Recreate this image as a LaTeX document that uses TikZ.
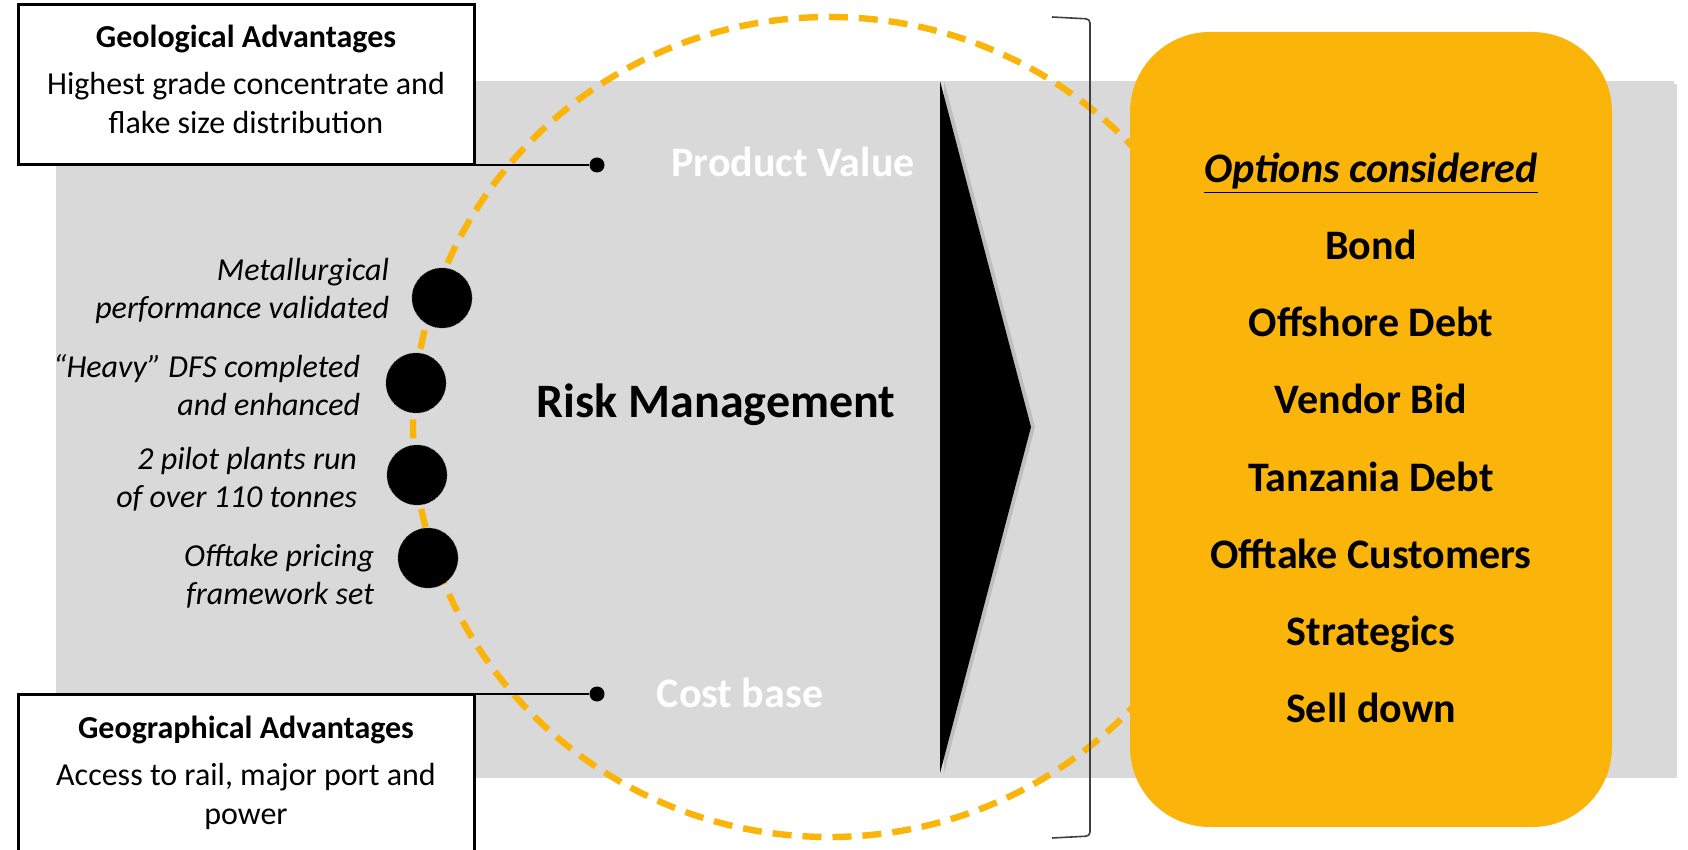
\documentclass[tikz,border=0pt]{standalone}
\usepackage{fontspec}
\setmainfont{Carlito}
\usetikzlibrary{positioning,shadows}

\definecolor{amber}{RGB}{250,180,10}
\definecolor{panelgray}{RGB}{217,217,217}
\definecolor{bracketgray}{RGB}{64,64,64}

\begin{document}
\begin{tikzpicture}[x=0.5pt,y=-0.5pt,semithick,node distance=19.9pt]

  \tikzstyle{infobox}=[rectangle,draw,line width=1.5pt,fill=white,minimum width=228pt,outer sep=0pt,inner sep=0pt]
  \tikzstyle{boxtext}=[align=center,font=\fontsize{16pt}{19.5pt}\selectfont]
  \tikzstyle{milestone}=[circle,fill=black,draw=black!70,densely dotted,thin,minimum size=30pt,inner sep=0pt]
  \tikzstyle{steptext}=[align=right,font=\fontsize{16pt}{19pt}\selectfont\itshape,inner sep=0pt]
  \tikzstyle{pindot}=[circle,fill=black,minimum size=7.5pt,inner sep=0pt]
  \tikzstyle{lead}=[line width=1.3pt]
  \tikzstyle{driver}=[text=white,font=\fontsize{21pt}{25pt}\selectfont\bfseries,anchor=base]
  \tikzstyle{choice}=[font=\fontsize{21pt}{25pt}\selectfont\bfseries,text height=14pt,text depth=4pt,inner sep=0pt]

  \useasboundingbox (0,0) rectangle (1688,850);

  % panel, arrow head and ring
  \fill[panelgray,drop shadow={shadow xshift=1.5pt,shadow yshift=-1.5pt,opacity=0.3}] (56,81) rectangle (1674,775);
  \fill[black,drop shadow={shadow xshift=2pt,shadow yshift=0pt,opacity=0.3}] (940,81) -- (1031,427) -- (940,773) -- cycle;
  \draw[amber,line width=3.2pt,dash pattern=on 9.5pt off 5.5pt] (829,427) ellipse [x radius=208pt,y radius=205pt];
  \draw[bracketgray,line width=0.8pt,rounded corners=2pt] (1052,17) -- (1090,19) -- (1090,836) -- (1052,838);

  % options
  \node[rectangle,rounded corners=40pt,fill=amber,minimum width=241pt,minimum height=397.5pt] (opts) at (1371,429.5) {};
  \node[choice] (head) at (1371,173) {\itshape\underline{Options considered}};
  \node[choice] (bond) [below=of head] {Bond};
  \node[choice] (offshore) [below=of bond] {Offshore Debt};
  \node[choice] (vendor) [below=of offshore] {Vendor Bid};
  \node[choice] (tanzania) [below=of vendor] {Tanzania Debt};
  \node[choice] (offtake) [below=of tanzania] {Offtake Customers};
  \node[choice] (strategics) [below=of offtake] {Strategics};
  \node[choice] (selldown) [below=of strategics] {Sell down};

  \node[font=\fontsize{24pt}{29pt}\selectfont\bfseries,anchor=base] (risk) at (716,417) {Risk Management};
  \node[driver] (value) at (793,177) {Product Value};
  \node[driver] (cost) at (740,707) {Cost base};

  % advantage boxes
  \node[infobox,minimum height=80pt] (geol) at (246,85) {};
  \node[boxtext] (geoltext) at (246,79)
    {\textbf{Geological Advantages}\\[4pt]Highest grade concentrate and\\flake size distribution};
  \node[infobox,minimum height=95pt,anchor=north] (geog) at (246,694) {};
  \node[boxtext] (geogtext) at (246,773)
    {\textbf{Geographical Advantages}\\[4pt]Access to rail, major port and\\power};

  \node[pindot] (valuepin) at (597,165) {};
  \node[pindot] (costpin) at (597,694) {};
  \draw[lead] (geol.south east) -- (valuepin);
  \draw[lead] (geog.north east) -- (costpin);

  % milestones on the ring
  \node[milestone] (m1) at (442,298) {};
  \node[milestone] (m2) at (416,383) {};
  \node[milestone] (m3) at (417,475) {};
  \node[milestone] (m4) at (428,558) {};
  \node[steptext,left=11pt of m1,yshift=3.5pt] (t1) {Metallurgical\\performance validated};
  \node[steptext,left=12.5pt of m2,yshift=-1pt] (t2) {“Heavy” DFS completed\\and enhanced};
  \node[steptext,left=14.5pt of m3,yshift=-2pt] (t3) {2 pilot plants run\\of over 110 tonnes};
  \node[steptext,left=11.5pt of m4,yshift=-9pt] (t4) {Offtake pricing\\framework set};
\end{tikzpicture}
\end{document}
